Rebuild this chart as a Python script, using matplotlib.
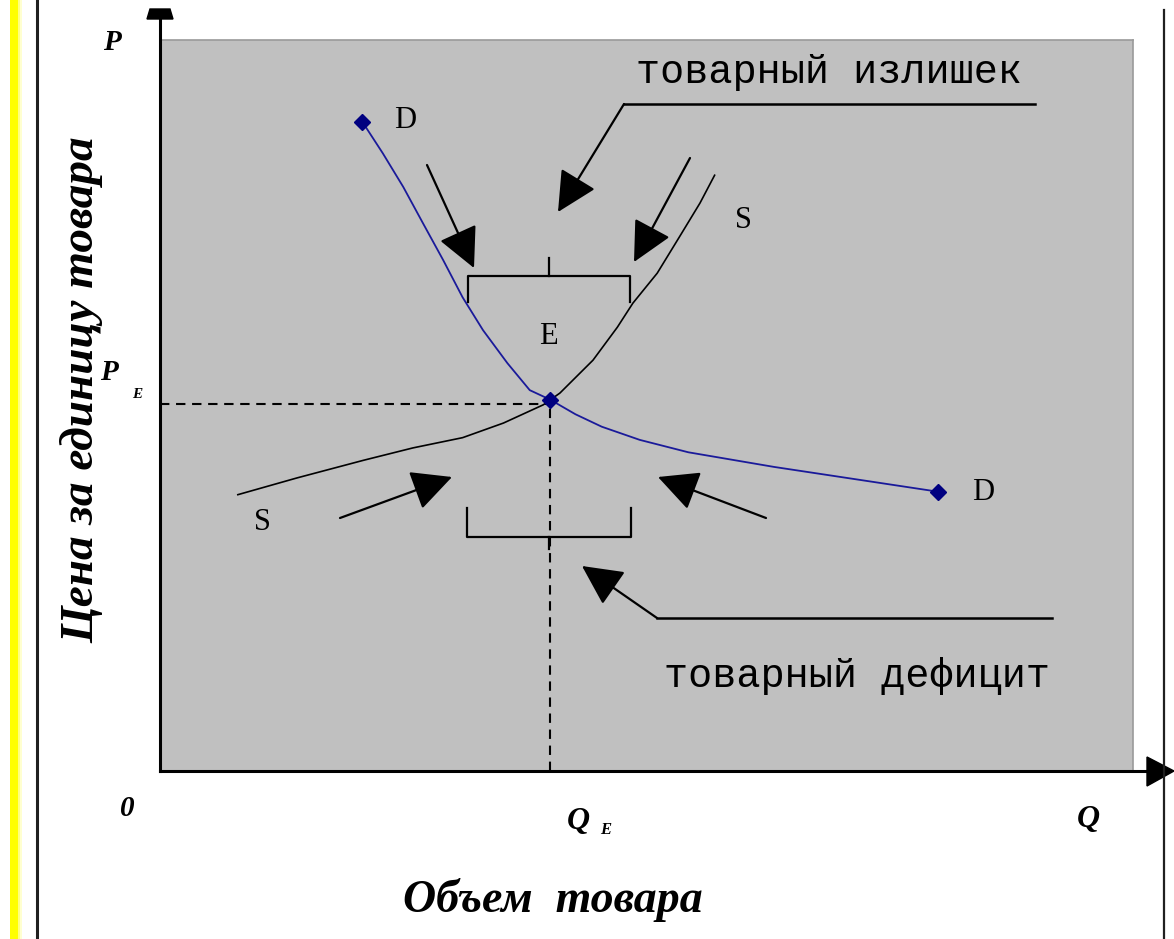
import matplotlib
matplotlib.use("Agg")
import matplotlib.pyplot as plt
from matplotlib.patches import Rectangle, Polygon

# ---- data (Q and P on 0..100 scales of the plot area) ----
demand_q = [20.8, 22.9, 25.0, 27.0, 29.1, 31.1, 33.2, 35.7, 38.0, 40.1,
            42.7, 45.4, 49.3, 54.3, 63.1, 80.0]
demand_p = [88.8, 84.5, 79.9, 75.0, 69.9, 64.8, 60.3, 55.8, 52.1, 50.8,
            48.8, 47.1, 45.3, 43.6, 41.6, 38.2]
supply_q = [8.0, 14.1, 20.9, 26.0, 31.1, 35.3, 39.4, 41.1, 44.5, 47.0,
            48.6, 51.1, 53.4, 55.5, 57.0]
supply_p = [37.8, 40.1, 42.5, 44.2, 45.6, 47.6, 50.1, 51.7, 56.2, 60.7,
            64.0, 68.1, 73.1, 77.7, 81.5]
q_eq = 40.1
p_eq = 50.2
demand_marks_q = [20.8, 40.1, 80.0]
demand_marks_p = [88.8, 50.8, 38.2]

title_surplus = "товарный излишек"
title_deficit = "товарный дефицит"
xlabel = "Объем  товара"
ylabel = "Цена за единицу товара"

W, H = 1174, 939
fig = plt.figure(figsize=(W / 100, H / 100), dpi=100)
fig.patch.set_facecolor("white")

# main plot area (grey)
ax = fig.add_axes([160 / W, (H - 771) / H, 973 / W, 731 / H])
ax.set_facecolor("#c0c0c0")
ax.set_xlim(0, 100)
ax.set_ylim(0, 100)
ax.set_xticks([])
ax.set_yticks([])
for s in ("top", "right"):
    ax.spines[s].set_color("#9a9a9a")
    ax.spines[s].set_linewidth(1.2)
for s in ("left", "bottom"):
    ax.spines[s].set_visible(False)

dash = (0, (4.5, 3.2))
ax.plot([0, q_eq], [p_eq, p_eq], color="black", lw=1.5, linestyle=dash)
ax.plot([q_eq, q_eq], [0, p_eq], color="black", lw=1.5, linestyle=dash)

ax.plot(supply_q, supply_p, color="black", lw=1.2)
ax.plot(demand_q, demand_p, color="#1a1a9a", lw=1.3)
ax.plot(demand_marks_q, demand_marks_p, linestyle="none", marker="D",
        markersize=8, color="#000080")

# overlay in pixel coordinates
ov = fig.add_axes([0, 0, 1, 1])
ov.set_xlim(0, W)
ov.set_ylim(H, 0)
ov.axis("off")
ov.patch.set_visible(False)

# frame decorations
ov.add_patch(Rectangle((10, 0), 8, H, color="#ffff00", lw=0))
ov.add_patch(Rectangle((18, 0), 2, H, color="#ffff80", lw=0))
ov.add_patch(Rectangle((20, 0), 2, H, color="#ffffd0", lw=0))
ov.plot([37, 37], [0, H], color="#202020", lw=2.2)
ov.plot([1164, 1164], [10, H], color="#202020", lw=1.6)

# axes with arrows
ov.plot([160, 160], [771, 14], color="black", lw=2.2)
ov.add_patch(Polygon([(147, 19), (173, 19), (170, 9), (150, 9)], closed=True, color="black"))
ov.plot([160, 1150], [771, 771], color="black", lw=2.2)
ov.add_patch(Polygon([(1147, 757), (1147, 786), (1174, 771)], closed=True, color="black"))

lw_b = 1.6
# top bracket
ov.plot([468, 468, 630, 630], [302, 276, 276, 302], color="black", lw=lw_b)
ov.plot([549, 549], [258, 276], color="black", lw=lw_b)
# bottom bracket
ov.plot([467, 467, 631, 631], [508, 537, 537, 508], color="black", lw=lw_b)
ov.plot([549, 549], [537, 549], color="black", lw=lw_b)

astyle = "-|>,head_length=0.6,head_width=0.3"
def arrow(x0, y0, x1, y1):
    ov.annotate("", xy=(x1, y1), xytext=(x0, y0),
                arrowprops=dict(arrowstyle=astyle, mutation_scale=42,
                                color="black", lw=1.6, shrinkA=0, shrinkB=0))

arrow(427, 165, 474, 268)
arrow(690, 158, 634, 262)
arrow(340, 518, 452, 477)
arrow(766, 518, 658, 477)
# pointers
ov.plot([1035, 624], [104, 104], color="black", lw=1.8)
arrow(624, 104, 558, 212)
ov.plot([1052, 657], [618, 618], color="black", lw=1.8)
arrow(657, 618, 582, 566)

# texts
serif = "Liberation Serif"
mono = "Liberation Mono"
ov.text(405, 121, "D", fontsize=22, family=serif, ha="center", va="center")
ov.text(983, 492, "D", fontsize=22, family=serif, ha="center", va="center")
ov.text(743, 221, "S", fontsize=22, family=serif, ha="center", va="center")
ov.text(262, 523, "S", fontsize=22, family=serif, ha="center", va="center")
ov.text(548, 337, "E", fontsize=22, family=serif, ha="center", va="center")

ov.text(829, 72, title_surplus, fontsize=29, family=mono, ha="center", va="center")
ov.text(857, 676, title_deficit, fontsize=29, family=mono, ha="center", va="center")

bi = dict(family=serif, fontweight="bold", fontstyle="italic")
ov.text(112, 42, "P", fontsize=21, ha="center", va="center", **bi)
ov.text(109, 372, "P", fontsize=21, ha="center", va="center", **bi)
ov.text(137, 395, "E", fontsize=11, ha="center", va="center", **bi)
ov.text(127, 808, "0", fontsize=21, ha="center", va="center", **bi)
ov.text(578, 822, "Q", fontsize=23, ha="center", va="center", **bi)
ov.text(606, 830, "E", fontsize=12, ha="center", va="center", **bi)
ov.text(1088, 820, "Q", fontsize=23, ha="center", va="center", **bi)
ov.text(553, 900, xlabel, fontsize=33, ha="center", va="center", **bi)
ov.text(82, 390, ylabel, fontsize=34, rotation=90, ha="center", va="center", **bi)

fig.savefig("out.png", dpi=100)
